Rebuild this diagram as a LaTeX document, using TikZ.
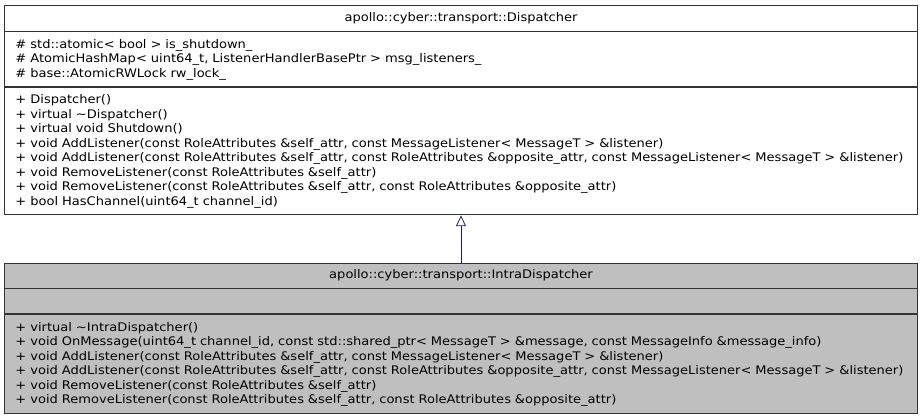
\documentclass[tikz,border=0pt]{standalone}
\usepackage{fontspec}
\setmainfont[FakeStretch=1.1]{DejaVu Sans}
\usetikzlibrary{arrows.meta,positioning}
\definecolor{dxnavy}{RGB}{25,25,112}
\definecolor{dxgrey}{RGB}{191,191,191}

\begin{document}
\begin{tikzpicture}[
  x=1pt,y=-1pt,
  every node/.style={font=\fontsize{11.85}{14.5}\selectfont},
  classtitle/.style={draw=black!80,line width=0.9pt,minimum width=913pt,inner sep=0pt},
  classpart/.style={draw=black!80,line width=0.9pt,text width=891pt,inner xsep=11pt,inner ysep=0pt,align=left},
  inherit/.style={-{Triangle[open,width=10pt,length=11pt]},dxnavy,line width=0.8pt}
]
\useasboundingbox (0,0) rectangle (923,419);

% Dispatcher
\node[classtitle,minimum height=26pt] (dispTitle) at (461,18) {apollo::cyber::transport::Dispatcher};
\node[classpart,minimum height=55pt,below=0pt of dispTitle] (dispAttrs) {\# std::atomic< bool > is\_shutdown\_\\
\# AtomicHashMap< uint64\_t, ListenerHandlerBasePtr > msg\_listeners\_\\
\# base::AtomicRWLock rw\_lock\_};
\node[classpart,minimum height=127pt,below=0pt of dispAttrs] (dispOps) {+ Dispatcher()\\
+ virtual \textasciitilde Dispatcher()\\
+ virtual void Shutdown()\\
+ void AddListener(const RoleAttributes \&self\_attr, const MessageListener< MessageT > \&listener)\\
+ void AddListener(const RoleAttributes \&self\_attr, const RoleAttributes \&opposite\_attr, const MessageListener< MessageT > \&listener)\\
+ void RemoveListener(const RoleAttributes \&self\_attr)\\
+ void RemoveListener(const RoleAttributes \&self\_attr, const RoleAttributes \&opposite\_attr)\\
+ bool HasChannel(uint64\_t channel\_id)};

% IntraDispatcher
\node[classtitle,fill=dxgrey,minimum height=25pt] (intraTitle) at (461,275.5) {apollo::cyber::transport::IntraDispatcher};
\node[classpart,fill=dxgrey,minimum height=25pt,below=0pt of intraTitle] (intraAttrs) {};
\node[classpart,fill=dxgrey,minimum height=99pt,below=0pt of intraAttrs] (intraOps) {+ virtual \textasciitilde IntraDispatcher()\\
+ void OnMessage(uint64\_t channel\_id, const std::shared\_ptr< MessageT > \&message, const MessageInfo \&message\_info)\\
+ void AddListener(const RoleAttributes \&self\_attr, const MessageListener< MessageT > \&listener)\\
+ void AddListener(const RoleAttributes \&self\_attr, const RoleAttributes \&opposite\_attr, const MessageListener< MessageT > \&listener)\\
+ void RemoveListener(const RoleAttributes \&self\_attr)\\
+ void RemoveListener(const RoleAttributes \&self\_attr, const RoleAttributes \&opposite\_attr)};

% inheritance
\draw[inherit] (intraTitle.north) -- (dispOps.south);
\end{tikzpicture}
\end{document}
